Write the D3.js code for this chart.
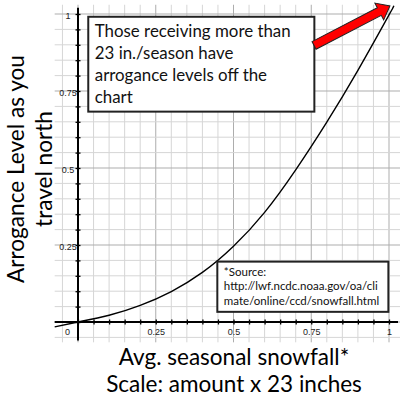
<!DOCTYPE html>
<html>
<head>
<meta charset="utf-8">
<script src="https://cdn.jsdelivr.net/npm/d3@7"></script>
<style>
  html, body { margin: 0; padding: 0; background: #fff; }
  svg { display: block; }
  .tick-label { font-family: "Liberation Sans", Arial, sans-serif; font-size: 9px; fill: #222; }
  .title { font-family: Lato, "Open Sans", sans-serif; fill: #000; }
  .note { font-family: Lato, "Open Sans", sans-serif; fill: #111; }
</style>
</head>
<body>
<div id="chart"></div>
<script>
// Curve (x = share of 23 in., y = arrogance level)
const snowfall = [-0.075, 0, 0.1, 0.2, 0.3, 0.4, 0.5, 0.6, 0.7, 0.8, 0.9, 1.0, 1.012];
const arrogance = [-0.016, 0, 0.022, 0.054, 0.099, 0.161, 0.246, 0.356, 0.494, 0.649, 0.817, 0.997, 1.02];

// Axis tick labels
const xTickValues = [0, 0.25, 0.5, 0.75, 1];
const xTickLabels = ['0', '0.25', '0.5', '0.75', '1'];
const yTickValues = [0.25, 0.5, 0.75, 1];
const yTickLabels = ['0.25', '0.5', '0.75', '1'];

// Text
const yTitleLines = ['Arrogance Level as you', 'travel north'];
const xTitleLines = ['Avg. seasonal snowfall*', 'Scale: amount x 23 inches'];
const noteLines = ['Those receiving more than', '23 in./season have', 'arrogance levels off the', 'chart'];
const sourceLines = ['*Source:', 'http://lwf.ncdc.noaa.gov/oa/cli', 'mate/online/ccd/snowfall.html'];

const width = 400, height = 398;

const svg = d3.select('#chart').append('svg')
    .attr('width', width)
    .attr('height', height);

const x = d3.scaleLinear().domain([0, 1]).range([78, 389]);
const y = d3.scaleLinear().domain([0, 1]).range([322, 14]);

// grid every 0.05, darker every 0.25
const gridSteps = d3.range(-1, 21).map(i => i * 0.05);
const isMajor = v => Math.abs(v * 4 - Math.round(v * 4)) < 1e-6;

const grid = svg.append('g');
grid.selectAll('line.v')
    .data(gridSteps)
    .enter().append('line')
    .attr('x1', d => x(d)).attr('x2', d => x(d))
    .attr('y1', y(1.03)).attr('y2', y(-0.066))
    .attr('stroke', d => isMajor(d) ? '#adadad' : '#d6d6d6')
    .attr('stroke-width', 1);
grid.selectAll('line.h')
    .data(gridSteps)
    .enter().append('line')
    .attr('y1', d => y(d)).attr('y2', d => y(d))
    .attr('x1', x(-0.075)).attr('x2', width)
    .attr('stroke', d => isMajor(d) ? '#adadad' : '#d6d6d6')
    .attr('stroke-width', 1);

// axis lines
svg.append('line')
    .attr('x1', x(-0.075)).attr('x2', width - 2)
    .attr('y1', y(0)).attr('y2', y(0))
    .attr('stroke', '#000').attr('stroke-width', 2);
svg.append('line')
    .attr('x1', x(0)).attr('x2', x(0))
    .attr('y1', y(1.02)).attr('y2', y(-0.06))
    .attr('stroke', '#000').attr('stroke-width', 2);

// small ticks crossing the axes
const minorTicks = d3.range(0, 21).map(i => i * 0.05);
const xTicks = svg.append('g')
    .attr('transform', `translate(0,${y(0) - 2.5})`)
    .call(d3.axisBottom(x).tickValues(minorTicks).tickSize(5).tickSizeOuter(0).tickFormat(''));
const yTicks = svg.append('g')
    .attr('transform', `translate(${x(0) + 2.5},0)`)
    .call(d3.axisLeft(y).tickValues(minorTicks).tickSize(5).tickSizeOuter(0).tickFormat(''));
[xTicks, yTicks].forEach(g => {
    g.select('.domain').remove();
    g.selectAll('line').attr('stroke', '#000').attr('stroke-width', 1.3);
});

// tick labels
const xLabels = svg.append('g')
    .attr('transform', `translate(0,${y(0)})`)
    .call(d3.axisBottom(x).tickValues(xTickValues).tickSize(0).tickPadding(7)
        .tickFormat((d, i) => xTickLabels[i]));
xLabels.select('.domain').remove();
xLabels.selectAll('text').attr('class', 'tick-label').attr('fill', null)
    .attr('x', d => d === 0 ? -11 : 0);

const yLabels = svg.append('g')
    .attr('transform', `translate(${x(0)},0)`)
    .call(d3.axisLeft(y).tickValues(yTickValues).tickSize(0).tickPadding(10)
        .tickFormat((d, i) => yTickLabels[i]));
yLabels.select('.domain').remove();
yLabels.selectAll('text').attr('class', 'tick-label').attr('fill', null)
    .attr('text-anchor', 'middle').attr('dy', '0.55em');
yLabels.attr('font-size', null).attr('font-family', null);
xLabels.attr('font-size', null).attr('font-family', null);

// the curve
const points = snowfall.map((s, i) => [s, arrogance[i]]);
const line = d3.line()
    .x(d => x(d[0]))
    .y(d => y(d[1]))
    .curve(d3.curveNatural);
svg.append('path')
    .datum(points)
    .attr('d', line)
    .attr('fill', 'none')
    .attr('stroke', '#000')
    .attr('stroke-width', 1.4);

// scale a block of text so a given line hits a target width
function fitBlock(sel, refIndex, target) {
    const node = sel.nodes()[refIndex];
    const fs = parseFloat(d3.select(node).attr('font-size'));
    const w = node.getComputedTextLength();
    sel.attr('font-size', fs * target / w);
}

// annotation box (top)
const noteBox = { x0: 0.033, x1: 0.76, y0: 0.683, y1: 0.991 };
svg.append('rect')
    .attr('x', x(noteBox.x0)).attr('y', y(noteBox.y1))
    .attr('width', x(noteBox.x1) - x(noteBox.x0))
    .attr('height', y(noteBox.y0) - y(noteBox.y1))
    .attr('fill', '#fff').attr('stroke', '#222').attr('stroke-width', 2);
const noteText = svg.append('g').selectAll('text')
    .data(noteLines)
    .enter().append('text')
    .attr('class', 'note')
    .attr('x', x(noteBox.x0) + 6.5)
    .attr('y', (d, i) => 36.5 + i * 22)
    .attr('font-size', 16)
    .text(d => d);
fitBlock(noteText, 0, 196);

// red arrow pointing off the chart
const tail = [x(0.759), y(0.898)];
const tip = [x(1.003), y(1.026)];
const ang = Math.atan2(tip[1] - tail[1], tip[0] - tail[0]);
const len = Math.hypot(tip[0] - tail[0], tip[1] - tail[1]);
const headLen = 12, headHalf = 9.5, shaftHalf = 4.3;
const arrowShape = [
    [0, -shaftHalf], [len - headLen, -shaftHalf], [len - headLen, -headHalf],
    [len, 0], [len - headLen, headHalf], [len - headLen, shaftHalf], [0, shaftHalf]
];
svg.append('polygon')
    .attr('points', arrowShape.map(p => p.join(',')).join(' '))
    .attr('transform', `translate(${tail[0]},${tail[1]}) rotate(${ang * 180 / Math.PI})`)
    .attr('fill', '#ff0000')
    .attr('stroke', '#222')
    .attr('stroke-width', 1);

// source box (bottom right)
const srcBox = { x0: 0.448, x1: 0.998, y0: 0.033, y1: 0.196 };
svg.append('rect')
    .attr('x', x(srcBox.x0)).attr('y', y(srcBox.y1))
    .attr('width', x(srcBox.x1) - x(srcBox.x0))
    .attr('height', y(srcBox.y0) - y(srcBox.y1))
    .attr('fill', '#fff').attr('stroke', '#222').attr('stroke-width', 2);
const srcText = svg.append('g').selectAll('text')
    .data(sourceLines)
    .enter().append('text')
    .attr('class', 'note')
    .attr('x', x(srcBox.x0) + 6.5)
    .attr('y', (d, i) => 275.5 + i * 14.8)
    .attr('font-size', 11)
    .text(d => d);
fitBlock(srcText, 1, 154);

// x title
const xTitle = svg.append('g').selectAll('text')
    .data(xTitleLines)
    .enter().append('text')
    .attr('class', 'title')
    .attr('x', 234)
    .attr('y', (d, i) => 365 + i * 27)
    .attr('text-anchor', 'middle')
    .attr('font-size', 21)
    .text(d => d);
fitBlock(xTitle, 1, 256);

// y title
const yTitle = svg.append('g')
    .attr('transform', 'translate(0,169) rotate(-90)')
    .selectAll('text')
    .data(yTitleLines)
    .enter().append('text')
    .attr('class', 'title')
    .attr('x', 0)
    .attr('y', (d, i) => 24 + i * 28)
    .attr('text-anchor', 'middle')
    .attr('font-size', 21)
    .text(d => d);
fitBlock(yTitle, 0, 228);
</script>
</body>
</html>
